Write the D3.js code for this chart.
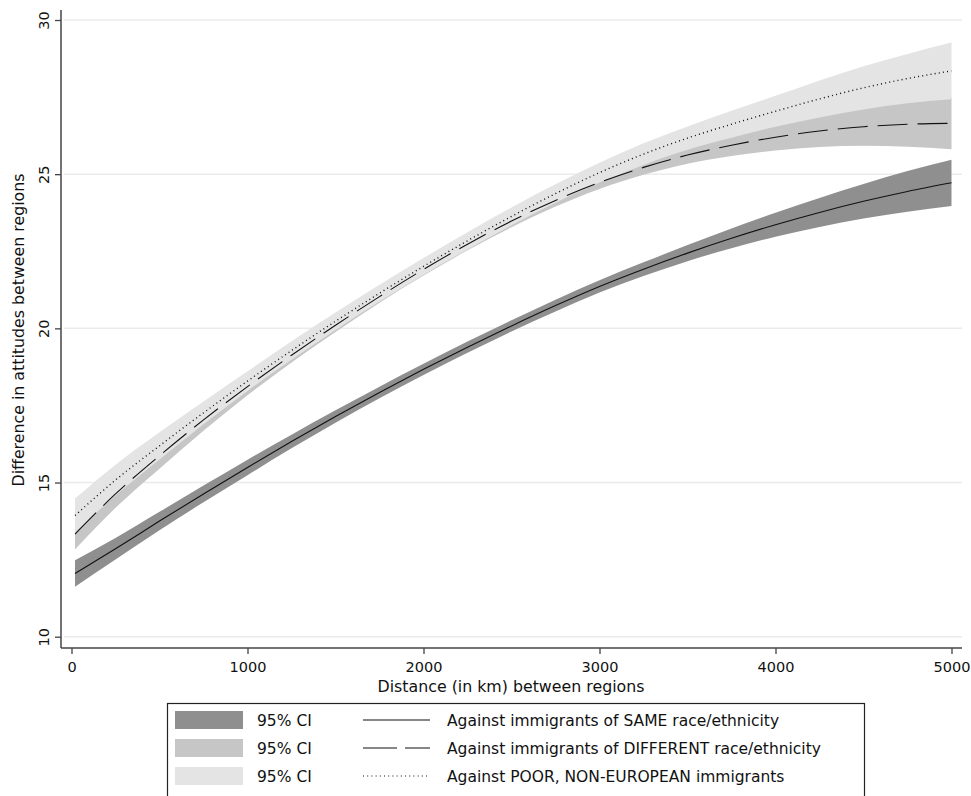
<!DOCTYPE html>
<html><head><meta charset="utf-8">
<script src="https://cdn.jsdelivr.net/npm/d3@7"></script>
<style>body{margin:0;background:#fff}svg{display:block}text{font-family:"DejaVu Sans",Arial,sans-serif;fill:#111}</style>
</head><body><svg id="c" width="971" height="796"></svg>
<script>
const km = [20,250,500,750,1000,1250,1500,1750,2000,2250,2500,2750,3000,3250,3500,3750,4000,4250,4500,4750,5000];
const sameFit = [12.05,12.85,13.75,14.63,15.49,16.33,17.14,17.92,18.67,19.39,20.08,20.74,21.36,21.92,22.44,22.92,23.36,23.76,24.12,24.44,24.72];
const sameCI  = [0.43,0.35,0.3,0.27,0.25,0.22,0.2,0.19,0.18,0.18,0.18,0.19,0.2,0.22,0.26,0.32,0.39,0.47,0.56,0.66,0.75];
const diffFit = [13.33,14.63,15.87,17.03,18.11,19.13,20.1,21.03,21.91,22.73,23.48,24.15,24.73,25.22,25.62,25.94,26.2,26.4,26.54,26.62,26.65];
const diffCI  = [0.5,0.45,0.42,0.35,0.28,0.24,0.22,0.2,0.2,0.2,0.2,0.2,0.21,0.24,0.28,0.35,0.43,0.52,0.62,0.73,0.84];
const poorFit = [13.93,15.08,16.19,17.26,18.29,19.28,20.23,21.14,22.01,22.84,23.63,24.37,25.05,25.65,26.17,26.62,27.04,27.44,27.8,28.1,28.35];
const poorCI  = [0.55,0.5,0.44,0.37,0.32,0.3,0.28,0.27,0.27,0.28,0.29,0.3,0.32,0.35,0.38,0.44,0.5,0.6,0.7,0.8,0.92];
const xTicks = [0,1000,2000,3000,4000,5000];
const yTicks = [10,15,20,25,30];
const legendLabels = ["Against immigrants of SAME race/ethnicity","Against immigrants of DIFFERENT race/ethnicity","Against POOR, NON-EUROPEAN immigrants"];
const ciLabel = "95% CI";
const xTitle = "Distance (in km) between regions";
const yTitle = "Difference in attitudes between regions";

const svg = d3.select("#c");
const x = d3.scaleLinear().domain([0,5000]).range([71.5,951.5]);
const y = d3.scaleLinear().domain([10,30]).range([636.7,20]);

// gridlines
svg.append("g").selectAll("line").data(yTicks).join("line")
  .attr("x1",64).attr("x2",962).attr("y1",d=>y(d)).attr("y2",d=>y(d))
  .attr("stroke","#ebebeb").attr("stroke-width",1.5);

const series = [
  {fit:sameFit, ci:sameCI, fill:"#8f8f8f", dash:null},
  {fit:diffFit, ci:diffCI, fill:"#c6c6c6", dash:"30,10"},
  {fit:poorFit, ci:poorCI, fill:"#e4e4e4", dash:"1,3.2"}
];
series.forEach(s=>{
  const area = d3.area().x((d,i)=>x(km[i])).y0((d,i)=>y(s.fit[i]-s.ci[i])).y1((d,i)=>y(s.fit[i]+s.ci[i])).curve(d3.curveMonotoneX);
  svg.append("path").datum(s.fit).attr("d",area).attr("fill",s.fill);
});
series.forEach(s=>{
  const line = d3.line().x((d,i)=>x(km[i])).y(d=>y(d)).curve(d3.curveMonotoneX);
  const p = svg.append("path").datum(s.fit).attr("d",line).attr("fill","none")
    .attr("stroke","#111").attr("stroke-width",s.dash==="1,3.2"?1.4:1.1);
  if(s.dash) p.attr("stroke-dasharray",s.dash);
});

// axes
const yAx = svg.append("g").attr("transform","translate(61,0)")
  .call(d3.axisLeft(y).tickValues(yTicks).tickSize(6).tickPadding(6).tickFormat(d3.format("d")));
yAx.select(".domain").attr("d","M0,10V648").attr("stroke","#444").attr("stroke-width",1.5);
yAx.selectAll(".tick line").attr("stroke","#444").attr("stroke-width",1.3);
yAx.selectAll(".tick text").attr("transform","rotate(-90)").attr("x",0).attr("y",-12)
  .attr("text-anchor","middle").attr("dy","0").style("font-size","14.5px").attr("fill","#111");

const xAx = svg.append("g").attr("transform","translate(0,648)")
  .call(d3.axisBottom(x).tickValues(xTicks).tickSize(6).tickPadding(8).tickFormat(d3.format("d")));
xAx.select(".domain").attr("d","M61,0H962").attr("stroke","#444").attr("stroke-width",1.5);
xAx.selectAll(".tick line").attr("stroke","#444").attr("stroke-width",1.3);
xAx.selectAll(".tick text").style("font-size","14.5px").attr("fill","#111");

svg.append("text").attr("x",511).attr("y",692).attr("text-anchor","middle").style("font-size","15.8px").text(xTitle);
svg.append("text").attr("transform","translate(24,330) rotate(-90)").attr("text-anchor","middle").style("font-size","15.8px").text(yTitle);

// legend
const lg = svg.append("g");
lg.append("rect").attr("x",167.5).attr("y",703.5).attr("width",697).attr("height",100)
  .attr("fill","#fff").attr("stroke","#222").attr("stroke-width",1.2);
series.forEach((s,i)=>{
  const cy = 720 + i*28;
  lg.append("rect").attr("x",175).attr("y",cy-9).attr("width",68).attr("height",18).attr("fill",s.fill);
  lg.append("text").attr("x",257).attr("y",cy+5.5).style("font-size","15.5px").text(ciLabel);
  const ln = lg.append("line").attr("x1",363).attr("x2",430).attr("y1",cy).attr("y2",cy)
    .attr("stroke","#111").attr("stroke-width",1.2);
  if(s.dash) ln.attr("stroke-dasharray", i===1 ? "34,8" : "1,3.2");
  lg.append("text").attr("x",447).attr("y",cy+5.5).style("font-size","15.5px").text(legendLabels[i]);
});
</script></body></html>
